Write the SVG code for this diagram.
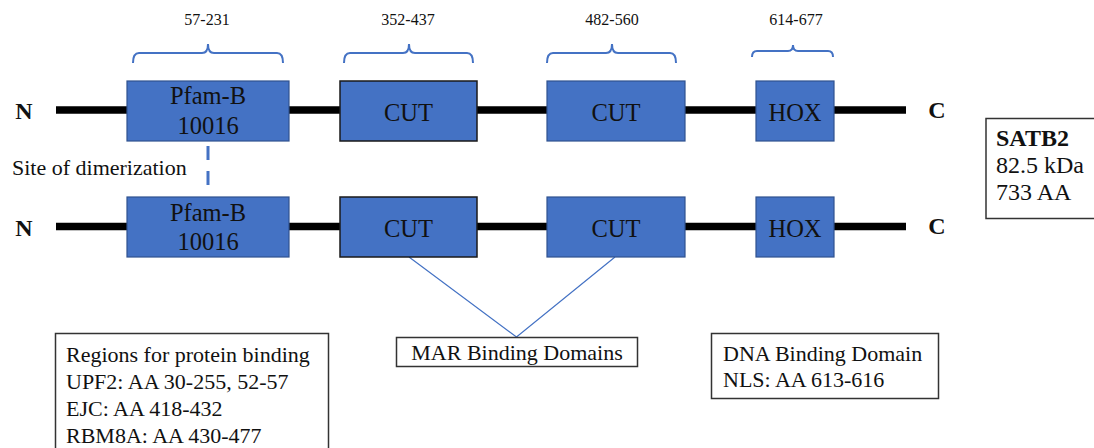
<svg xmlns="http://www.w3.org/2000/svg" width="1094" height="448" viewBox="0 0 1094 448">
<style>
text{font-family:"Liberation Serif","Times New Roman",serif;fill:#111}
.lbl{font-size:16px;text-anchor:middle}
.dom{font-size:24.5px;text-anchor:middle}
.term{font-size:24px;font-weight:bold;text-anchor:middle}
.note{font-size:22px}
.box{fill:#4472C4;stroke:#2F528F;stroke-width:1.2}
.boxk{fill:#4472C4;stroke:#1a1a1a;stroke-width:1.5}
.chain{stroke:#000;stroke-width:7.5}
.brace{fill:none;stroke:#4472C4;stroke-width:2}
.frame{fill:#fff;stroke:#333;stroke-width:1.5}
.conn{stroke:#4472C4;stroke-width:1.2;fill:none}
</style>
<rect width="1094" height="448" fill="#fff"/>
<g id="connectors">
<line class="chain" x1="56" y1="110" x2="906" y2="110"/>
<line class="chain" x1="56" y1="226.5" x2="906" y2="226.5"/>
<line x1="208" y1="146" x2="208" y2="187" stroke="#4472C4" stroke-width="3" stroke-dasharray="14,11"/>
<polyline class="conn" points="409,257 516.5,337 615,257"/>
<path class="brace" d="M133,63 Q133,53 139,53 L202,53 Q208,53 208,44 Q208,53 214,53 L277,53 Q283,53 283,63"/>
<path class="brace" d="M344,63 Q344,53 350,53 L403,53 Q409,53 409,44 Q409,53 415,53 L467,53 Q473,53 473,63"/>
<path class="brace" d="M547,63 Q547,53 553,53 L606,53 Q612,53 612,44 Q612,53 618,53 L670,53 Q676,53 676,63"/>
<path class="brace" d="M752,57 Q752,51 757,51 L788,51 Q793,51 793,45 Q793,51 798,51 L828,51 Q833,51 833,57"/>
</g>
<g id="labels-top">
<text class="lbl" x="207" y="25">57-231</text>
<text class="lbl" x="408" y="25">352-437</text>
<text class="lbl" x="612" y="25">482-560</text>
<text class="lbl" x="796" y="25">614-677</text>
</g>
<g id="row1">
<text class="term" x="24" y="119">N</text>
<text class="term" x="937" y="118">C</text>
<g id="pfam1"><rect class="box" x="127" y="81" width="162" height="60"/><text class="dom" x="208" y="104">Pfam-B</text><text class="dom" x="208" y="134">10016</text></g>
<g id="cut1a"><rect class="boxk" x="340" y="81" width="137" height="60"/><text class="dom" x="408.5" y="121">CUT</text></g>
<g id="cut2a"><rect class="box" x="547" y="81" width="138" height="60"/><text class="dom" x="616" y="121">CUT</text></g>
<g id="hox1"><rect class="box" x="756" y="81" width="78" height="60"/><text class="dom" x="795" y="121">HOX</text></g>
</g>
<g id="dimer-label"><text class="note" x="12" y="175">Site of dimerization</text></g>
<g id="row2">
<text class="term" x="24" y="236">N</text>
<text class="term" x="937" y="234">C</text>
<g id="pfam2"><rect class="box" x="127" y="197" width="162" height="60"/><text class="dom" x="208" y="221">Pfam-B</text><text class="dom" x="208" y="250">10016</text></g>
<g id="cut1b"><rect class="boxk" x="340" y="197" width="137" height="60"/><text class="dom" x="408.5" y="237">CUT</text></g>
<g id="cut2b"><rect class="box" x="547" y="197" width="138" height="60"/><text class="dom" x="616" y="237">CUT</text></g>
<g id="hox2"><rect class="box" x="756" y="197" width="78" height="60"/><text class="dom" x="795" y="237">HOX</text></g>
</g>
<g id="satb2">
<rect class="frame" x="986" y="118.5" width="120" height="100"/>
<text x="996" y="146" style="font-size:24px;font-weight:bold">SATB2</text>
<text x="996" y="173" style="font-size:24px">82.5 kDa</text>
<text x="996" y="200" style="font-size:24px">733 AA</text>
</g>
<g id="protein-binding">
<rect class="frame" x="55.5" y="333.5" width="273" height="130"/>
<text class="note" x="66" y="362">Regions for protein binding</text>
<text class="note" x="66" y="389">UPF2: AA 30-255, 52-57</text>
<text class="note" x="66" y="416">EJC: AA 418-432</text>
<text class="note" x="66" y="443">RBM8A: AA 430-477</text>
</g>
<g id="mar">
<rect class="frame" x="396.5" y="337.5" width="241" height="29"/>
<text class="note" x="517" y="360" text-anchor="middle">MAR Binding Domains</text>
</g>
<g id="dna-binding">
<rect class="frame" x="711.5" y="333.5" width="227" height="65"/>
<text class="note" x="723" y="361">DNA Binding Domain</text>
<text class="note" x="723" y="387">NLS: AA 613-616</text>
</g>
</svg>
